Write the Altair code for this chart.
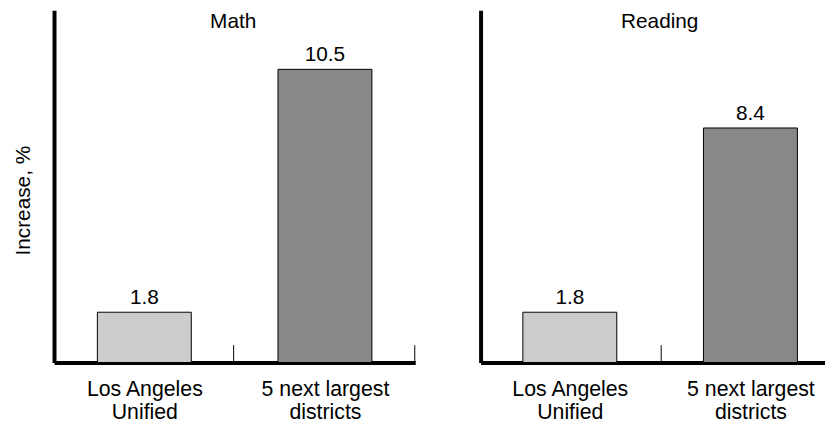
import altair as alt
import pandas as pd

# ---- data ----
categories = ["Los Angeles|Unified", "5 next largest|districts"]
subjects = ["Math", "Reading"]
math_values = [1.8, 10.5]
reading_values = [1.8, 8.4]
bar_colors = ["#cccccc", "#888888"]
y_max = 12.62

FONT = "Liberation Sans"
H = 356


def panel(subject, values, width, tick_band, tick_off, first, title_x,
          p_outer, align):
    df = pd.DataFrame({"district": categories, "value": values})
    x_axis = alt.Axis(
        title=None,
        domainWidth=4,
        domainColor="black",
        tickSize=alt.ExprRef("-18"),
        tickColor="black",
        tickWidth=1,
        bandPosition=tick_band,
        tickOffset=tick_off,
        labelOffset=-tick_off,
        labelPadding=34,
        labelFontSize=21.5,
        labelLineHeight=24,
        labelAngle=0,
        labelColor="black",
        labelFont=FONT,
        labelExpr="split(datum.label, '|')",
        labelOverlap=False,
    )
    if first:
        y_axis = alt.Axis(
            title="Increase, %",
            labels=False,
            ticks=False,
            grid=False,
            domainWidth=4,
            domainColor="black",
            titleFontSize=21,
            titleFontWeight="normal",
            titleFont=FONT,
            titleColor="black",
            titlePadding=21,
            titleY=192,
        )
    else:
        y_axis = alt.Axis(
            title=None,
            labels=False,
            ticks=False,
            grid=False,
            domainWidth=4,
            domainColor="black",
        )
    x = alt.X(
        "district:N",
        sort=categories,
        scale=alt.Scale(paddingInner=0.48, paddingOuter=p_outer, align=align),
        axis=x_axis,
    )
    y = alt.Y("value:Q", scale=alt.Scale(domain=[0, y_max], nice=False, zero=True), axis=y_axis)
    base = alt.Chart(df).encode(x=x, y=y)
    bars = base.mark_bar(stroke="black", strokeWidth=1).encode(
        color=alt.Color("district:N", scale=alt.Scale(domain=categories, range=bar_colors), legend=None)
    )
    labels = base.mark_text(dy=-8, baseline="alphabetic", fontSize=21, font=FONT, color="black").encode(
        text=alt.Text("value:Q", format=".1f")
    )
    head = (
        alt.Chart(pd.DataFrame({"subject": [subject]}))
        .mark_text(baseline="alphabetic", align="center", fontSize=21, font=FONT, color="black")
        .encode(text="subject:N", x=alt.value(title_x), y=alt.value(18))
    )
    return alt.layer(bars, labels, head).properties(width=width, height=H)


left = panel(subjects[0], math_values, 365, 1, 42.5, True, 181, 0.24, 0.5)
right = panel(subjects[1], reading_values, 348, 0, -43.2, False, 181, 0.1934, 0.605)

chart = (
    alt.hconcat(left, right, spacing=65)
    .properties(padding={"left": 4.5, "top": 0, "right": 0, "bottom": 0})
    .configure_view(stroke=None)
)

chart.save("out.html", embed_options={"renderer": "svg", "actions": False})
